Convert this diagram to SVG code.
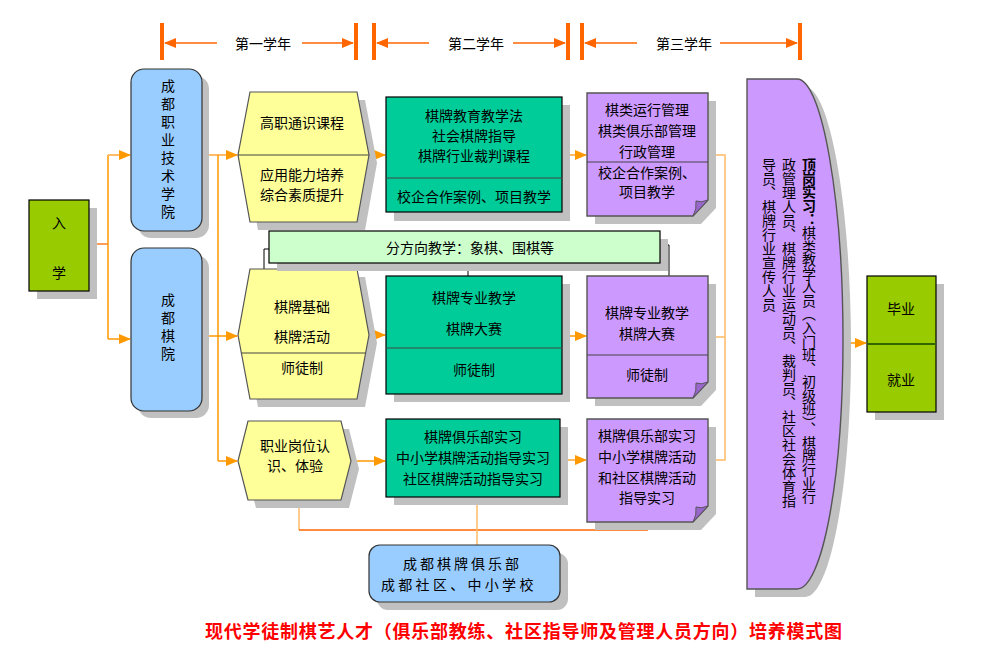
<svg xmlns="http://www.w3.org/2000/svg" width="997" height="663" viewBox="0 0 997 663">
<style>
text{font-family:"Noto Sans CJK SC","Noto Sans",sans-serif;font-size:14px;fill:#000}
.c{text-anchor:middle;dominant-baseline:central}
.sh{fill:#c0c0c0;stroke:none}
.hex{fill:#ffff99;stroke:#555;stroke-width:1.2}
.grn{fill:#00cc99;stroke:#000;stroke-width:1.2}
.pur{fill:#cc99ff;stroke:#555;stroke-width:1.4}
.fold{fill:#9966cc;stroke:#555;stroke-width:1}
.blu{fill:#99ccff;stroke:#333;stroke-width:1.2}
.lim{fill:#99cc00;stroke:#000;stroke-width:1.2}
.div{stroke:#444;stroke-width:1.2}
.bar{fill:#ff6600}
.tl{stroke:#ff6600;stroke-width:1.3;fill:none}
.o{stroke:#ff9900;stroke-width:1.5;fill:none}
.ol{stroke:#ffbb66;stroke-width:2;fill:none}
.od{stroke:#ff6600;stroke-width:1.3;fill:none}
.k{stroke:#000;stroke-width:1;fill:none}
.vt{writing-mode:vertical-rl;font-size:14px}
</style>
<defs>
<marker id="ah" markerWidth="12" markerHeight="10" refX="11" refY="5" orient="auto" markerUnits="userSpaceOnUse">
<path d="M0,0 L12,5 L0,10 Z" fill="#ff9900"/>
</marker>
<marker id="ta" markerWidth="12" markerHeight="10" refX="11" refY="5" orient="auto" markerUnits="userSpaceOnUse">
<path d="M0,0 L12,5 L0,10 Z" fill="#ff6600"/>
</marker>
</defs>
<rect width="997" height="663" fill="#fff"/>

<g id="timeline">
<rect class="bar" x="160" y="23" width="4" height="37"/>
<rect class="bar" x="354" y="23" width="4" height="37"/>
<rect class="bar" x="372" y="23" width="4" height="37"/>
<rect class="bar" x="566" y="23" width="4" height="37"/>
<rect class="bar" x="580" y="23" width="4" height="37"/>
<rect class="bar" x="798" y="23" width="4" height="37"/>
<line class="tl" x1="217" y1="43" x2="165" y2="43" marker-end="url(#ta)"/>
<line class="tl" x1="302" y1="43" x2="353" y2="43" marker-end="url(#ta)"/>
<line class="tl" x1="429" y1="43" x2="377" y2="43" marker-end="url(#ta)"/>
<line class="tl" x1="513" y1="43" x2="565" y2="43" marker-end="url(#ta)"/>
<line class="tl" x1="637" y1="43" x2="585" y2="43" marker-end="url(#ta)"/>
<line class="tl" x1="720" y1="43" x2="797" y2="43" marker-end="url(#ta)"/>
<text class="c" x="263" y="43">第一学年</text>
<text class="c" x="476" y="43">第二学年</text>
<text class="c" x="684" y="43">第三学年</text>
</g>

<g id="connectors">
<path class="od" d="M89,244 H108"/>
<path class="o" d="M108,155 V339"/>
<line class="ol" x1="108" y1="155" x2="130" y2="155" marker-end="url(#ah)"/>
<line class="o" x1="108" y1="339" x2="130" y2="339" marker-end="url(#ah)"/>
<line class="ol" x1="202" y1="155" x2="237" y2="155" marker-end="url(#ah)"/>
<path class="o" d="M218,155 V461"/>
<line class="o" x1="202" y1="336" x2="237" y2="336" marker-end="url(#ah)"/>
<line class="o" x1="218" y1="461" x2="237" y2="461" marker-end="url(#ah)"/>
<line class="ol" x1="369" y1="155" x2="385" y2="155" marker-end="url(#ah)"/>
<line class="o" x1="369" y1="335" x2="385" y2="335" marker-end="url(#ah)"/>
<line class="o" x1="351" y1="461" x2="385" y2="461" marker-end="url(#ah)"/>
<line class="ol" x1="562" y1="155" x2="586" y2="155" marker-end="url(#ah)"/>
<line class="o" x1="562" y1="336" x2="586" y2="336" marker-end="url(#ah)"/>
<line class="ol" x1="562" y1="460" x2="586" y2="460" marker-end="url(#ah)"/>
<path class="ol" style="stroke-width:1.5" d="M708,155 H725 V460 H708 M708,337 H725"/>
<line class="o" x1="843" y1="343" x2="866" y2="343" marker-end="url(#ah)"/>
<path class="ol" style="stroke-width:1.5" d="M299,500 V530"/>
<path class="od" d="M299,530 H648"/>
<path class="ol" style="stroke-width:1.5" stroke-dasharray="3,2" d="M648,530 V522"/>
<path class="ol" style="stroke-width:1.5" d="M477,497 V545"/>
<path class="k" d="M269,249 H264 V269"/>
<path class="k" d="M468,263 V276"/>
<path class="k" d="M660,245 H669 V276"/>
</g>

<g id="node-enter">
<rect class="sh" x="37" y="208" width="60" height="91"/>
<rect class="lim" x="29" y="200" width="60" height="91"/>
<text class="c" x="59" y="222">入</text>
<text class="c" x="59" y="272">学</text>
</g>

<g id="node-college">
<rect class="sh" x="138" y="76" width="71" height="162" rx="13"/>
<rect class="blu" x="131" y="69" width="71" height="162" rx="13"/>
<text class="vt" x="168" y="79" letter-spacing="3.9">成都职业技术学院</text>
</g>

<g id="node-academy">
<rect class="sh" x="138" y="255" width="71" height="163" rx="13"/>
<rect class="blu" x="131" y="248" width="71" height="163" rx="13"/>
<text class="vt" x="168" y="293" letter-spacing="4">成都棋院</text>
</g>

<g id="node-hex1">
<polygon class="sh" points="258,100 365,100 377,163 365,230 258,230 246,163"/>
<polygon class="hex" points="250,92 357,92 369,155 357,222 250,222 238,155"/>
<line class="div" x1="238" y1="155" x2="369" y2="155"/>
<text class="c" x="302" y="122">高职通识课程</text>
<text class="c" x="302" y="174">应用能力培养</text>
<text class="c" x="302" y="194">综合素质提升</text>
</g>

<g id="node-hex2">
<polygon class="sh" points="258,277 365,277 377,343 365,407 258,407 246,343"/>
<polygon class="hex" points="250,269 357,269 369,335 357,399 250,399 238,335"/>
<line class="div" x1="241.5" y1="353" x2="365.5" y2="353"/>
<text class="c" x="302" y="306">棋牌基础</text>
<text class="c" x="302" y="336">棋牌活动</text>
<text class="c" x="302" y="367">师徒制</text>
</g>

<g id="node-hex3">
<polygon class="sh" points="256,429 349,429 359,469 349,508 256,508 246,469"/>
<polygon class="hex" points="248,421 341,421 351,461 341,500 248,500 238,461"/>
<text class="c" x="295" y="445">职业岗位认</text>
<text class="c" x="295" y="465">识、体验</text>
</g>

<g id="node-direction">
<rect class="sh" x="277" y="239" width="391" height="32"/>
<rect x="269" y="231" width="391" height="32" fill="#ccffcc" stroke="#000" stroke-width="1.2"/>
<text class="c" x="470" y="247">分方向教学：象棋、围棋等</text>
</g>

<g id="node-green1">
<rect class="sh" x="394" y="105" width="176" height="116"/>
<rect class="grn" x="386" y="97" width="176" height="115"/>
<line class="div" x1="386" y1="178" x2="562" y2="178" stroke="#000"/>
<text class="c" x="474" y="115">棋牌教育教学法</text>
<text class="c" x="474" y="135">社会棋牌指导</text>
<text class="c" x="474" y="155">棋牌行业裁判课程</text>
<text class="c" x="474" y="196">校企合作案例、项目教学</text>
</g>

<g id="node-green2">
<rect class="sh" x="394" y="284" width="176" height="118"/>
<rect class="grn" x="386" y="276" width="176" height="118"/>
<line class="div" x1="386" y1="348" x2="562" y2="348" stroke="#000"/>
<text class="c" x="474" y="297">棋牌专业教学</text>
<text class="c" x="474" y="328">棋牌大赛</text>
<text class="c" x="474" y="369">师徒制</text>
</g>

<g id="node-green3">
<rect class="sh" x="394" y="427" width="174" height="78"/>
<rect class="grn" x="386" y="419" width="174" height="78"/>
<text class="c" x="473" y="436">棋牌俱乐部实习</text>
<text class="c" x="473" y="457">中小学棋牌活动指导实习</text>
<text class="c" x="473" y="478">社区棋牌活动指导实习</text>
</g>

<g id="node-purple1">
<path class="sh" d="M595,101 H716 V208 L701,224 H595 Z"/>
<path class="pur" d="M587,93 H708 V200 L693,216 H587 Z"/>
<line class="div" x1="587" y1="162" x2="708" y2="162"/>
<path class="fold" d="M693,216 L708,200 Q701,203 696,201 Q697,209 693,216 Z"/>
<text class="c" x="647" y="109">棋类运行管理</text>
<text class="c" x="647" y="130">棋类俱乐部管理</text>
<text class="c" x="647" y="151">行政管理</text>
<text class="c" x="647" y="172">校企合作案例、</text>
<text class="c" x="647" y="191">项目教学</text>
</g>

<g id="node-purple2">
<path class="sh" d="M595,284 H716 V390 L701,406 H595 Z"/>
<path class="pur" d="M587,276 H708 V382 L693,398 H587 Z"/>
<line class="div" x1="587" y1="355" x2="708" y2="355"/>
<path class="fold" d="M693,398 L708,382 Q701,385 696,383 Q697,391 693,398 Z"/>
<text class="c" x="647" y="312">棋牌专业教学</text>
<text class="c" x="647" y="333">棋牌大赛</text>
<text class="c" x="647" y="374">师徒制</text>
</g>

<g id="node-purple3">
<path class="sh" d="M595,427 H716 V514 L701,530 H595 Z"/>
<path class="pur" d="M587,419 H708 V506 L693,522 H587 Z"/>
<path class="fold" d="M693,522 L708,506 Q701,509 696,507 Q697,515 693,522 Z"/>
<text class="c" x="647" y="435">棋牌俱乐部实习</text>
<text class="c" x="647" y="456">中小学棋牌活动</text>
<text class="c" x="647" y="477">和社区棋牌活动</text>
<text class="c" x="647" y="497">指导实习</text>
</g>

<g id="node-partners">
<rect class="sh" x="377" y="553" width="191" height="57" rx="11"/>
<rect class="blu" x="369" y="545" width="191" height="57" rx="11"/>
<text x="403" y="563" dominant-baseline="central" letter-spacing="3">成都棋牌俱乐部</text>
<text x="381" y="584" dominant-baseline="central" letter-spacing="3.3">成都社区、中小学校</text>
</g>

<g id="node-internship">
<path class="sh" d="M755,87 H805 C830,87 851,208 851,348 C851,488 830,597 805,597 H755 Z"/>
<path class="pur" d="M747,79 H797 C822,79 843,200 843,340 C843,480 822,589 797,589 H747 Z"/>
<text class="vt" x="809" y="158" font-weight="bold" letter-spacing="-0.45">顶岗实习：</text>
<text class="vt" x="809" y="225.8" letter-spacing="-0.45">棋类教学人员（入门班、初级班）、棋牌行业行</text>
<text class="vt" x="789" y="158">政管理人员、棋牌行业运动员、裁判员、社区社会体育指</text>
<text class="vt" x="769" y="158">导员、棋牌行业宣传人员</text>
</g>

<g id="node-graduate">
<rect class="sh" x="875" y="284" width="69" height="136"/>
<rect class="lim" x="867" y="276" width="69" height="136"/>
<line x1="867" y1="344" x2="936" y2="344" stroke="#336600" stroke-width="2"/>
<text class="c" x="901" y="308">毕业</text>
<text class="c" x="901" y="379">就业</text>
</g>

<text x="205" y="630" dominant-baseline="central" font-size="18" font-weight="bold" style="fill:#ff0000;font-size:18px" textLength="637" lengthAdjust="spacing">现代学徒制棋艺人才（俱乐部教练、社区指导师及管理人员方向）培养模式图</text>
</svg>
